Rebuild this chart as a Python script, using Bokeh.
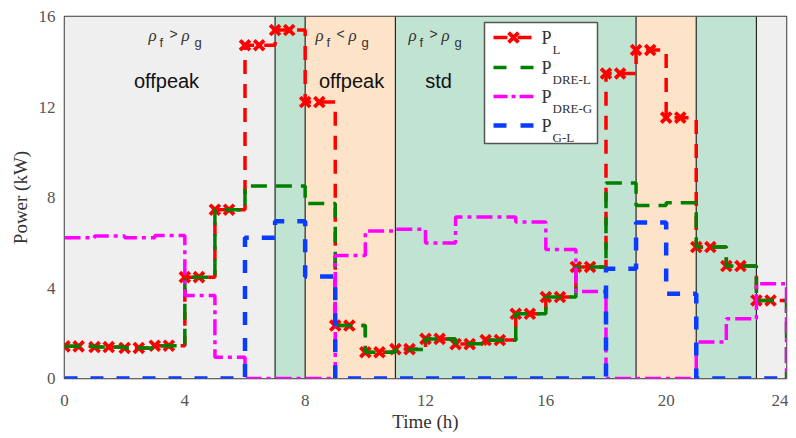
from bokeh.plotting import figure
from bokeh.models import Range1d, FixedTicker
from bokeh.core.properties import value
from bokeh.embed import file_html
from bokeh.resources import INLINE

# ---------------- data ----------------
hours = list(range(25))  # step edges 0..24 h
p_load = [1.42, 1.39, 1.35, 1.45, 4.48, 7.46, 14.73, 15.40, 12.22, 2.34, 1.16, 1.30,
          1.75, 1.52, 1.70, 2.86, 3.60, 4.93, 13.48, 14.52, 11.53, 5.81, 4.97, 3.45]
p_dre_l = [1.42, 1.39, 1.35, 1.45, 4.48, 7.46, 8.51, 8.51, 7.73, 2.34, 1.16, 1.28,
           1.75, 1.54, 1.69, 2.86, 3.60, 4.93, 8.64, 7.65, 7.77, 5.81, 4.97, 3.45]
p_dre_g = [6.22, 6.30, 6.22, 6.32, 3.67, 0.94, 0.0, 0.0, 0.0, 5.44, 6.52, 6.60,
           5.99, 7.14, 7.14, 6.92, 5.70, 3.85, 0.0, 0.0, 0.0, 1.61, 2.64, 4.19]
p_g_l = [0.0, 0.0, 0.0, 0.0, 0.0, 0.0, 6.22, 6.95, 4.51, 0.0, 0.0, 0.0,
         0.0, 0.0, 0.0, 0.0, 0.0, 0.0, 4.85, 6.89, 3.75, 0.0, 0.0, 0.0]
marker_offsets = [0.0, 0.47]

region_start = [0, 7, 8, 11, 19, 21, 23]
region_end = [7, 8, 11, 19, 21, 23, 24]
region_color = ["#efefef", "#c1e3d1", "#fde3c8", "#c1e3d1", "#fde3c8", "#c1e3d1", "#efefef"]

x_ticks = [0, 4, 8, 12, 16, 20, 24]
y_ticks = [0, 4, 8, 12, 16]

# ---------------- figure ----------------
p = figure(width=788, height=434, output_backend="svg", toolbar_location=None,
           x_range=Range1d(0, 24), y_range=Range1d(0, 16),
           min_border_left=64, min_border_right=2, min_border_top=16, min_border_bottom=56,
           background_fill_color="white", border_fill_color="white")
p.grid.visible = False
p.outline_line_color = "#3a3a3a"
p.outline_line_width = 1.5

# helpers: reference-pixel -> data position (for annotations only)
def dx(px):
    return (px - 64) / 30.083

def dy(py):
    return (378 - py) / 22.625

# background bands
p.quad(left=region_start, right=region_end, bottom=0, top=16, fill_color=region_color,
       line_color=None)
p.segment(x0=region_start[1:], x1=region_start[1:], y0=0, y1=16, line_color="#262626",
          line_width=1.2)

# series
def ext(v):
    return v + [v[-1]]

p.step(hours, ext(p_load), mode="after", line_color="#ff0000", line_width=3.5, line_dash="14 10")
mx = [h + o for h in hours[:-1] for o in marker_offsets]
my = [v for v in p_load for o in marker_offsets]
p.scatter(mx, my, marker="x", size=14, line_color="#ff0000", line_width=3.8)
p.step(hours, p_dre_l + [0.0], mode="after", line_color="#008000", line_width=3.5, line_dash="16 9")
p.step(hours, p_dre_g + [0.0], mode="after", line_color="#ff00ff", line_width=3.5, line_dash="16 5 4 5")
p.step(hours, p_g_l + [0.0], mode="after", line_color="#0a3cff", line_width=4.5, line_dash="13 13")

# region annotations  (rho_f > rho_g etc.)
def rho_label(x_px, op):
    rel = [0, 11, 21, 33, 46]
    base = [35, 42, 33, 35, 42]
    txt = ["ρ", "f", op, "ρ", "g"]
    fonts = ["Liberation Serif", "Liberation Sans", "Liberation Sans", "Liberation Serif", "Liberation Sans"]
    sizes = ["17px", "13px", "14px", "17px", "13px"]
    styles = ["italic", "normal", "normal", "italic", "normal"]
    for r, b, t, f, s, st in zip(rel, base, txt, fonts, sizes, styles):
        p.text(x=[dx(x_px + r)], y=[dy(b)], text=[t], text_font=value(f), text_font_size=s,
               text_font_style=st, text_color="#333333", text_baseline="alphabetic",
               text_align="left")

rho_label(148, ">")
rho_label(315, "<")
rho_label(408, ">")

for cx, t in [(166, "offpeak"), (351, "offpeak"), (438, "std")]:
    p.text(x=[dx(cx)], y=[dy(80)], text=[t], text_font=value("Liberation Sans"),
           text_font_size="20px", text_color="#111111", text_align="center",
           text_baseline="middle")

# custom legend
p.quad(left=[dx(484)], right=[dx(597)], top=[dy(22)], bottom=[dy(143)], fill_color="white",
       line_color="#555555", line_width=1.5)
leg_y = [37, 67, 96, 125]
leg_col = ["#ff0000", "#008000", "#ff00ff", "#0a3cff"]
leg_dash = ["14 10", "13 14", "14 4 4 4", "13 14"]
leg_w = [3.5, 3.5, 3.5, 4.5]
leg_sub = ["L", "DRE-L", "DRE-G", "G-L"]
for yy, c, d, w, s in zip(leg_y, leg_col, leg_dash, leg_w, leg_sub):
    p.line([dx(493), dx(533)], [dy(yy), dy(yy)], line_color=c, line_width=w, line_dash=d)
    p.text(x=[dx(541)], y=[dy(yy)], text=["P"], text_font=value("Liberation Serif"),
           text_font_size="18px", text_color="#333333", text_baseline="middle")
    p.text(x=[dx(552)], y=[dy(yy + 12)], text=[s], text_font=value("Liberation Serif"),
           text_font_size="13px", text_color="#333333", text_baseline="middle")
p.scatter([dx(513)], [dy(leg_y[0])], marker="x", size=14, line_color="#ff0000", line_width=3.8)

# axes
p.xaxis.ticker = FixedTicker(ticks=x_ticks)
p.yaxis.ticker = FixedTicker(ticks=y_ticks)
for ax in (p.xaxis[0], p.yaxis[0]):
    ax.axis_line_color = None
    ax.major_tick_line_color = None
    ax.minor_tick_line_color = None
    ax.major_tick_in = 0
    ax.major_tick_out = 0
    ax.minor_tick_out = 0
    ax.major_label_text_font = "Liberation Serif"
    ax.major_label_text_font_size = "17px"
    ax.major_label_text_color = "#555555"
    ax.axis_label_text_font = "Liberation Serif"
    ax.axis_label_text_font_size = "19px"
    ax.axis_label_text_font_style = "normal"
    ax.axis_label_text_color = "#333333"
p.xaxis.axis_label = "Time (h)"
p.yaxis.axis_label = "Power (kW)"
p.xaxis.major_label_standoff = 16
p.xaxis.axis_label_standoff = 2
p.yaxis.major_label_standoff = 9
p.yaxis.axis_label_standoff = 5

open("out.html", "w").write(file_html(p, INLINE))
